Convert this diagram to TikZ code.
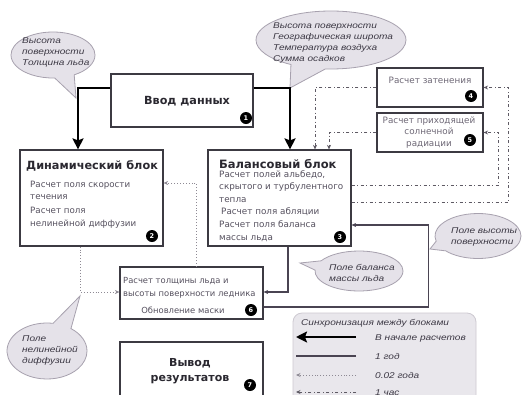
\documentclass[tikz,border=0pt]{standalone}
\usepackage{fontspec}
\setmainfont{DejaVu Sans}
\newfontfamily\calfont[FakeStretch=1.2]{Liberation Sans}
\usetikzlibrary{shapes.callouts,arrows.meta}
\newcommand\lftlines[1]{\begin{tabular}[t]{@{}l@{}}#1\end{tabular}}
\newcommand\ctrlines[1]{\begin{tabular}[t]{@{}c@{}}#1\end{tabular}}
\definecolor{boxline}{HTML}{3C3A42}
\definecolor{bodytxt}{HTML}{56515F}
\definecolor{lighttxt}{HTML}{6E6876}
\definecolor{titletxt}{HTML}{2A2830}
\definecolor{calfill}{HTML}{E5E2E9}
\definecolor{caldraw}{HTML}{A7A1AE}
\definecolor{caltxt}{HTML}{3C3844}
\definecolor{legfill}{HTML}{E9E7EC}
\definecolor{legdraw}{HTML}{CDC9D1}
\definecolor{thinln}{HTML}{4A4452}
\definecolor{dotln}{HTML}{8E8A94}
\definecolor{dashln}{HTML}{5E5A64}
\begin{document}
\begin{tikzpicture}[x=1pt,y=-1pt,
  blk/.style={draw=boxline,line width=1.2pt,fill=white,inner sep=0pt},
  badge/.style={circle,fill=black,text=white,inner sep=0pt,minimum size=12pt,font=\fontsize{6.5}{7}\selectfont\bfseries},
  titlef/.style={font=\fontsize{11.3}{14}\selectfont\bfseries,text=titletxt,inner sep=0pt},
  body/.style={font=\fontsize{8.7}{12.6}\selectfont,text=bodytxt,inner sep=0pt},
  cal/.style={ellipse callout,draw=caldraw,line width=0.8pt,fill=calfill,callout pointer arc=28,inner sep=0pt},
  caltext/.style={font=\calfont\itshape\fontsize{8.4}{11.3}\selectfont,text=caltxt,inner sep=0pt},
  thickarr/.style={line width=2.6pt,black,-{Stealth[length=11pt,width=11pt,inset=2pt]}},
  thinarr/.style={line width=1.1pt,thinln,-{Stealth[length=4.5pt,width=4pt]}},
  dotarr/.style={line width=0.9pt,dotln,dotted,-{Stealth[length=4.5pt,width=4pt]}},
  dasharr/.style={line width=1pt,dashln,dash pattern=on 3pt off 2.5pt on 1pt off 2.5pt,-{Stealth[length=4.5pt,width=4pt]}}
]
\clip (0,0) rectangle (522,394);
\fill[white] (0,0) rectangle (522,394);

% callouts
\node[cal,minimum width=84pt,minimum height=46pt,callout absolute pointer={(76,98)}] (calA) at (53,55) {};
\node[caltext,anchor=base west] (calAt) at (22,43) {\lftlines{Высота\\поверхности\\Толщина льда}};
\node[cal,minimum width=150pt,minimum height=58pt,callout absolute pointer={(290,88)}] (calB) at (331,40) {};
\node[caltext,anchor=base west] (calBt) at (273,28) {\lftlines{Высота поверхности\\Географическая широта\\Температура воздуха\\Сумма осадков}};
\node[cal,minimum width=88pt,minimum height=40pt,callout absolute pointer={(300,263)}] (calC) at (359,271) {};
\node[caltext,anchor=base west] (calCt) at (329,270) {\lftlines{Поле баланса\\массы льда}};
\node[cal,minimum width=86pt,minimum height=45pt,callout absolute pointer={(430,249)}] (calD) at (478,236) {};
\node[caltext,anchor=base west] (calDt) at (451,233) {\lftlines{Поле высоты\\поверхности}};
\node[cal,minimum width=80pt,minimum height=56pt,callout absolute pointer={(80,296)}] (calE) at (47,351) {};
\node[caltext,anchor=base west] (calEt) at (22,341) {\lftlines{Поле\\нелинейной\\диффузии}};

% boxes
\node[blk,minimum width=142pt,minimum height=53pt] (inp) at (182,100.5) {};
\node[titlef,anchor=base,font=\fontsize{11.2}{14}\selectfont\bfseries] (inpt) at (187,104) {Ввод данных};
\node[badge] (b1) at (246,118) {1};

\node[blk,minimum width=143pt,minimum height=96pt] (dyn) at (91.5,198) {};
\node[titlef,anchor=base west] (dynt) at (26,169) {Динамический блок};
\node[body,anchor=base west] (dynb) at (30,187) {\lftlines{Расчет поля скорости\\течения\\[1.5pt]Расчет поля\\нелинейной диффузии}};
\node[badge] (b2) at (152,236) {2};

\node[blk,minimum width=143pt,minimum height=96pt] (bal) at (279.5,198) {};
\node[titlef,anchor=base west,font=\fontsize{11.5}{14}\selectfont\bfseries] (balt) at (219,168) {Балансовый блок};
\node[body,anchor=base west,font=\fontsize{8.8}{12.6}\selectfont] (balb) at (219,177) {\lftlines{Расчет полей альбедо,\\скрытого и турбулентного\\тепла\\\hspace{2pt}Расчет поля абляции\\Расчет поля баланса\\массы льда}};
\node[badge] (b3) at (340,237) {3};

\node[blk,minimum width=106pt,minimum height=39pt] (sh) at (430,87.5) {};
\node[body,anchor=base,text=lighttxt,font=\fontsize{8.8}{11.5}\selectfont] (sht) at (430,83) {Расчет затенения};
\node[badge] (b4) at (471,96) {4};

\node[blk,minimum width=106pt,minimum height=39pt] (rad) at (430,132.5) {};
\node[body,anchor=base,text=lighttxt,font=\fontsize{8.8}{11.5}\selectfont] (radt) at (429,123) {\ctrlines{Расчет приходящей\\солнечной\\радиации}};
\node[badge] (b5) at (470,140) {5};

\node[blk,minimum width=143pt,minimum height=52pt] (ice) at (191.5,293) {};
\node[body,anchor=base west,font=\fontsize{8.4}{13}\selectfont] (icet) at (123,283) {\lftlines{Расчет толщины льда и\\высоты поверхности ледника}};
\node[body,anchor=base,font=\fontsize{8.4}{13}\selectfont] (icem) at (183,313) {Обновление маски};
\node[badge] (b6) at (251,310) {6};

\node[blk,minimum width=143pt,minimum height=70pt] (out) at (191.5,377) {};
\node[titlef,anchor=base,font=\fontsize{11}{15}\selectfont\bfseries] (outt) at (190,366) {\ctrlines{Вывод\\результатов}};
\node[badge] (b7) at (250,385) {7};

% connectors
\draw[thickarr] ([yshift=12.5pt]inp.west) -| ([xshift=-13.5pt]dyn.north);
\draw[thickarr] ([yshift=12.5pt]inp.east) -| ([xshift=10.5pt]bal.north);

\draw[dotarr] ([xshift=-11.5pt]dyn.south) |- ([yshift=1pt]ice.west);
\draw[dotarr] ([xshift=4.5pt]ice.north) |- ([yshift=15pt]dyn.east);

\draw[thinarr] ([xshift=8.5pt]bal.south) |- ([yshift=1pt]ice.east);
\draw[thinarr] ([yshift=-14pt]ice.east) -| ([xshift=77pt,yshift=-27pt]bal.east) -- ([yshift=-27pt]bal.east);

\draw[dasharr] (sh.west) -| ([xshift=35.5pt]bal.north);
\draw[dasharr] (rad.west) -| ([xshift=49.5pt]bal.north);
\draw[dasharr] ([yshift=13pt]bal.east) -| ([xshift=15pt]rad.east) -- (rad.east);
\draw[dasharr] ([yshift=-4pt]bal.east) -| ([xshift=25pt]sh.east) -- (sh.east);

% legend
\node[draw=legdraw,fill=legfill,line width=0.8pt,rounded corners=9pt,minimum width=183pt,minimum height=95pt,inner sep=0pt] (leg) at (384.5,360.5) {};
\node[caltext,anchor=base west] (legt) at (301,325) {Синхронизация между блоками};
\coordinate (l1a) at (296,337); \coordinate (l1b) at (356,337);
\coordinate (l2a) at (296,356); \coordinate (l2b) at (356,356);
\coordinate (l3a) at (296,375); \coordinate (l3b) at (356,375);
\coordinate (l4a) at (296,392); \coordinate (l4b) at (356,392);
\draw[thickarr] (l1b) -- (l1a);
\draw[line width=1.1pt,thinln] (l2b) -- (l2a);
\draw[dotarr] (l3b) -- (l3a);
\draw[dasharr] (l4b) -- (l4a);
\node[caltext,anchor=base west] (leg1) at (375,340) {В начале расчетов};
\node[caltext,anchor=base west] (leg2) at (375,359) {1 год};
\node[caltext,anchor=base west] (leg3) at (375,378) {0.02 года};
\node[caltext,anchor=base west] (leg4) at (375,395) {1 час};
\end{tikzpicture}
\end{document}
